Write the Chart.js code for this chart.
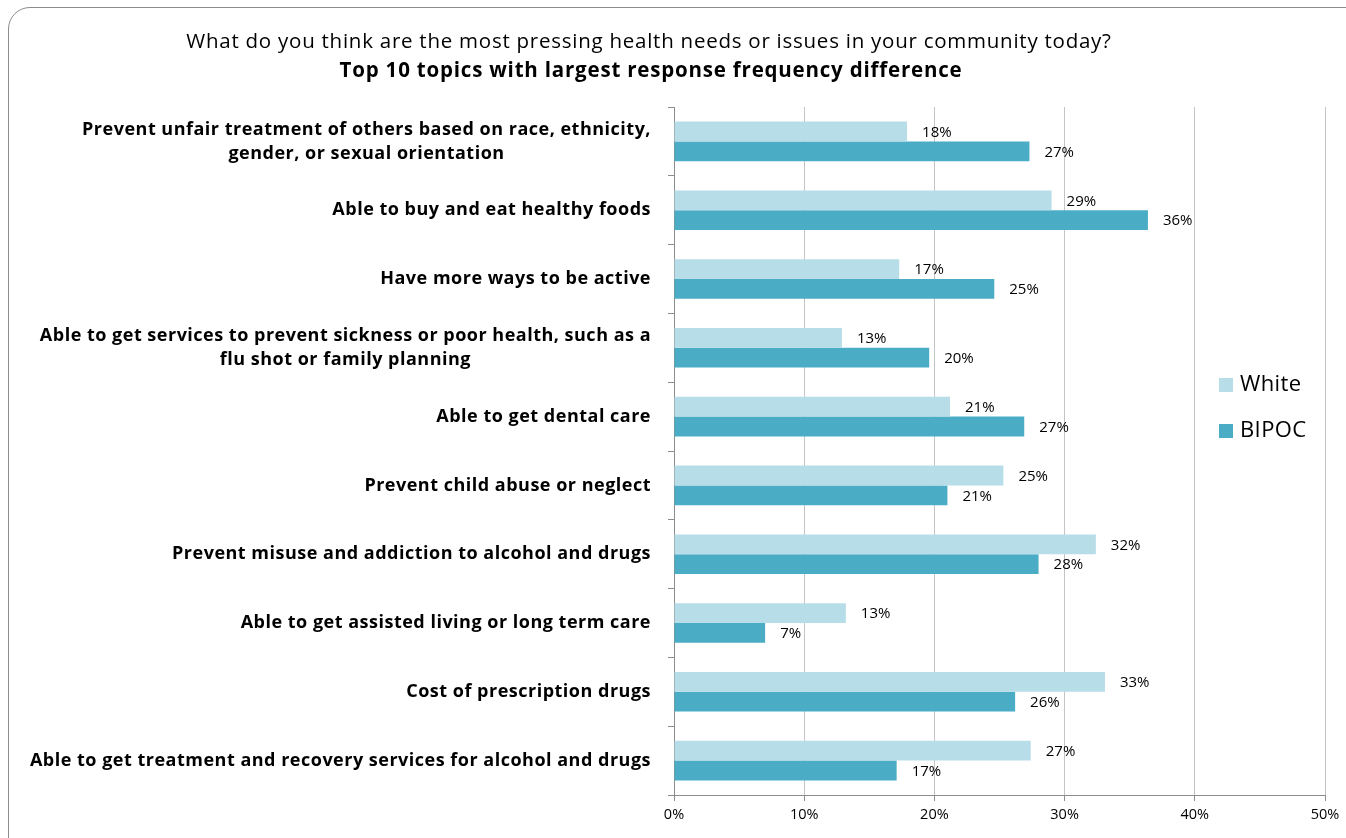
<!DOCTYPE html>
<html>
<head>
<meta charset="utf-8">
<script src="https://cdn.jsdelivr.net/npm/chart.js@4.4.1/dist/chart.umd.min.js"></script>
<style>
  html, body { margin: 0; padding: 0; background: #fff; }
  body { width: 1346px; height: 838px; position: relative; overflow: hidden; }
  #frame { position: absolute; left: 8px; top: 7px; width: 1360px; height: 860px;
           border: 1px solid #8c8c8c; border-radius: 22px; box-sizing: border-box; }
  #wrap { position: absolute; left: 0; top: 0; width: 1346px; height: 838px; }
</style>
</head>
<body>
<div id="frame"></div>
<div id="wrap"><canvas id="c" width="1346" height="838"></canvas></div>
<script>
const titleLine1 = "What do you think are the most pressing health needs or issues in your community today?";
const titleLine2 = "Top 10 topics with largest response frequency difference";
const categories = [
  ["Prevent unfair treatment of others based on race, ethnicity,", "gender, or sexual orientation"],
  ["Able to buy and eat healthy foods"],
  ["Have more ways to be active"],
  ["Able to get services to prevent sickness or poor health, such as a", "flu shot or family planning"],
  ["Able to get dental care"],
  ["Prevent child abuse or neglect"],
  ["Prevent misuse and addiction to alcohol and drugs"],
  ["Able to get assisted living or long term care"],
  ["Cost of prescription drugs"],
  ["Able to get treatment and recovery services for alcohol and drugs"]
];
const seriesNames = ["White", "BIPOC"];
const whiteValues = [17.9, 29.0, 17.3, 12.9, 21.2, 25.3, 32.4, 13.2, 33.1, 27.4];
const bipocValues = [27.3, 36.4, 24.6, 19.6, 26.9, 21.0, 28.0, 7.0, 26.2, 17.1];
const xTicks = [0, 10, 20, 30, 40, 50];

const FONT = "'Open Sans', sans-serif";
const colors = ["#B7DEE8", "#4BACC6"];

const drawExtras = {
  id: 'drawExtras',
  afterDraw(chart) {
    const ctx = chart.ctx;
    ctx.save();
    // titles
    ctx.fillStyle = '#000';
    ctx.textAlign = 'center';
    ctx.textBaseline = 'middle';
    ctx.font = "20.5px " + FONT;
    ctx.letterSpacing = '0.75px';
    ctx.fillText(titleLine1, 649, 42);
    ctx.font = "bold 20.5px " + FONT;
    ctx.letterSpacing = '0.8px';
    ctx.fillText(titleLine2, 651, 71);

    // category labels (multi-line, centred block, right aligned)
    const y = chart.scales.y;
    ctx.font = "bold 18px " + FONT;
    ctx.letterSpacing = '0.5px';
    const right = 651;
    const lh = 24;
    categories.forEach((lines, i) => {
      const cy = y.getPixelForValue(i);
      const w = Math.max(...lines.map(l => ctx.measureText(l).width));
      const cx = right - w / 2;
      const top = cy - (lines.length - 1) * lh / 2;
      lines.forEach((l, k) => ctx.fillText(l, cx, top + k * lh));
    });

    // data labels
    ctx.font = "15px " + FONT;
    ctx.letterSpacing = '0px';
    ctx.textAlign = 'left';
    chart.data.datasets.forEach((ds, di) => {
      const meta = chart.getDatasetMeta(di);
      meta.data.forEach((bar, i) => {
        ctx.fillText(Math.round(ds.data[i]) + '%', bar.x + 15, bar.y + 1);
      });
    });

    // legend
    ctx.font = "22px " + FONT;
    ctx.letterSpacing = '0.4px';
    seriesNames.forEach((n, i) => {
      const ly = 385 + i * 46;
      ctx.fillStyle = colors[i];
      ctx.fillRect(1219, ly - 7, 14, 14);
      ctx.fillStyle = '#000';
      ctx.fillText(n, 1240, ly);
    });
    ctx.restore();
  }
};

new Chart(document.getElementById('c'), {
  type: 'bar',
  data: {
    labels: categories,
    datasets: [
      { label: seriesNames[0], data: whiteValues, backgroundColor: colors[0] },
      { label: seriesNames[1], data: bipocValues, backgroundColor: colors[1] }
    ]
  },
  options: {
    indexAxis: 'y',
    responsive: false,
    animation: false,
    events: [],
    layout: { padding: { top: 107, right: 21, left: 0, bottom: 0 } },
    datasets: { bar: { categoryPercentage: 0.575, barPercentage: 1.0 } },
    plugins: { legend: { display: false }, tooltip: { enabled: false }, title: { display: false } },
    scales: {
      x: {
        min: 0, max: 50,
        afterBuildTicks(scale) { scale.ticks = xTicks.map(v => ({ value: v })); },
        afterFit(scale) { scale.height = 43; },
        ticks: { callback: v => v + '%', font: { family: FONT, size: 14.5 }, color: '#000', padding: 5, maxRotation: 0 },
        grid: { color: '#C4C4C4', lineWidth: 1, tickLength: 6, tickColor: '#8c8c8c' },
        border: { color: '#8c8c8c', width: 1 }
      },
      y: {
        offset: true,
        afterFit(scale) { scale.width = 674; },
        ticks: { callback: () => '', padding: 0 },
        grid: { offset: true, drawOnChartArea: false, tickLength: 6, color: '#8c8c8c' },
        border: { color: '#8c8c8c', width: 1 }
      }
    }
  },
  plugins: [drawExtras]
});
</script>
</body>
</html>
